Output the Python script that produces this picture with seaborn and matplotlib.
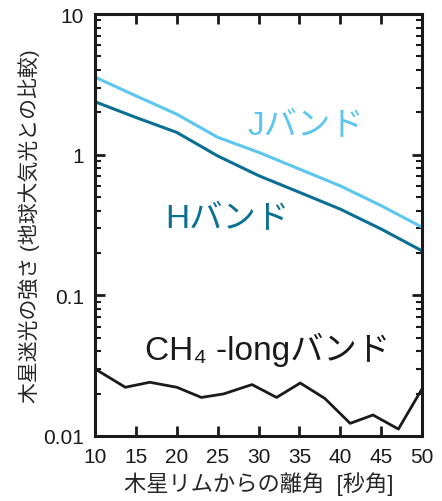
import numpy as np
import pandas as pd
import matplotlib
matplotlib.use('Agg')
import matplotlib.pyplot as plt
import seaborn as sns
from matplotlib.ticker import FixedLocator, FixedFormatter, LogLocator, NullFormatter

# data
angle_j = [10, 15, 20, 25, 30, 35, 40, 45, 50]
j_band = [3.56, 2.62, 1.94, 1.33, 1.04, 0.79, 0.60, 0.434, 0.305]
angle_h = [10, 15, 20, 25, 30, 35, 40, 45, 50]
h_band = [2.38, 1.84, 1.44, 0.98, 0.71, 0.54, 0.41, 0.296, 0.207]
angle_ch4 = [10, 13.7, 16.7, 20, 23, 25.7, 29.2, 32.2, 35.1, 38.1, 41.2, 44, 47.1, 50]
ch4_band = [0.030, 0.0222, 0.0241, 0.0222, 0.0188, 0.0199, 0.0232, 0.0188,
            0.0238, 0.0185, 0.0123, 0.0141, 0.0112, 0.0217]

x_ticks = [10, 15, 20, 25, 30, 35, 40, 45, 50]
y_ticks = [0.01, 0.1, 1, 10]
y_tick_labels = ['0.01', '0.1', '1', '10']

J_COLOR = '#5cc6ee'
H_COLOR = '#0a6f93'
FONTS = ['Liberation Sans', 'DejaVu Sans', 'Noto Sans CJK JP']

sns.set_style('ticks')
plt.rcParams['font.family'] = FONTS

fig = plt.figure(figsize=(4.42, 5.02), dpi=100)
ax = fig.add_axes([0.215, 0.1295, 0.74, 0.8405])

sns.lineplot(x=angle_j, y=j_band, ax=ax, color=J_COLOR, linewidth=2.2)
sns.lineplot(x=angle_h, y=h_band, ax=ax, color=H_COLOR, linewidth=2.2)
sns.lineplot(x=angle_ch4, y=ch4_band, ax=ax, color='#1a1a1a', linewidth=2.0)

ax.set_yscale('log')
ax.set_xlim(10, 50)
ax.set_ylim(0.01, 10)
ax.xaxis.set_major_locator(FixedLocator(x_ticks))
ax.yaxis.set_major_locator(FixedLocator(y_ticks))
ax.yaxis.set_major_formatter(FixedFormatter(y_tick_labels))
ax.yaxis.set_minor_locator(LogLocator(base=10, subs=np.arange(2, 10)))
ax.yaxis.set_minor_formatter(NullFormatter())

ax.tick_params(which='both', direction='in', top=True, right=True, colors='#1a1a1a')
ax.tick_params(which='major', length=7, width=2, labelsize=15, pad=8)
ax.tick_params(which='minor', length=4, width=1.5)
for s in ax.spines.values():
    s.set_linewidth(2.2)
    s.set_color('#1a1a1a')

ax.set_xlabel('木星リムからの離角  [秒角]', fontsize=16, labelpad=4)
ax.set_ylabel('木星迷光の強さ (地球大気光との比較)', fontsize=15, labelpad=2)

ax.text(0.465, 0.735, 'Jバンド', transform=ax.transAxes, color=J_COLOR,
        fontsize=24, ha='left', va='center')
ax.text(0.214, 0.514, 'Hバンド', transform=ax.transAxes, color=H_COLOR,
        fontsize=24, ha='left', va='center')
ax.text(0.153, 0.206, 'CH₄ -longバンド', transform=ax.transAxes, color='#1a1a1a',
        fontsize=24, ha='left', va='center')

fig.savefig('out.png', dpi=100)
